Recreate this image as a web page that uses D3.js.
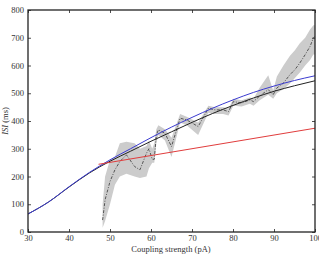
<!DOCTYPE html>
<html><head><meta charset="utf-8">
<script src="https://cdn.jsdelivr.net/npm/d3@7"></script>
<style>html,body{margin:0;padding:0;background:#fff;overflow:hidden}</style>
</head><body>
<svg id="c" width="319" height="254"></svg>
<script>
// ---- data ----
const xTicks = [30, 40, 50, 60, 70, 80, 90, 100];
const yTicks = [0, 100, 200, 300, 400, 500, 600, 700, 800];
const modelX   = [30, 35, 40, 45, 50, 55, 60, 65, 70, 75, 80, 85, 90, 95, 100];
const blueISI  = [65, 108, 163, 215, 260, 300, 340, 378, 413, 446, 476, 503, 526, 546, 563];
const blackISI = [65, 108, 162, 213, 255, 291, 327, 361, 395, 427, 456, 483, 507, 527, 545];
const redX   = [47.2, 100];
const redISI = [244, 374];
const simX = [48.2, 48.8, 50.0, 51.2, 52.4, 54.0, 56.0, 57.3, 58.9, 59.5, 60.3, 60.8, 61.3, 61.8, 63.4, 65.0, 67.1, 68.7, 71.5, 74.0, 75.6, 77.6, 78.9, 80.1, 82.1, 84.1, 85.0, 86.5, 88.6, 89.8, 90.7, 92.3, 93.9, 95.1, 96.3, 97.6, 98.8, 99.6, 100];
const simMean = [43, 116, 182, 224, 254, 278, 236, 224, 284, 300, 262, 262, 350, 368, 356, 308, 410, 404, 380, 446, 440, 440, 434, 470, 465, 476, 470, 490, 513, 495, 519, 537, 567, 585, 609, 639, 669, 699, 705];
const simLow  = [15, 40, 100, 170, 200, 210, 200, 195, 200, 230, 250, 250, 320, 350, 330, 270, 395, 385, 350, 430, 425, 425, 420, 455, 452, 462, 455, 475, 495, 480, 500, 515, 535, 555, 575, 600, 620, 640, 640];
const simHigh = [100, 200, 260, 270, 320, 325, 320, 300, 310, 330, 300, 320, 370, 385, 370, 340, 425, 415, 395, 455, 450, 450, 445, 480, 475, 485, 480, 520, 565, 510, 560, 600, 635, 655, 680, 700, 730, 745, 745];

// ---- layout ----
const L = 28, R = 315, T = 10, B = 232;
const svg = d3.select('#c');
const x = d3.scaleLinear().domain([30, 100]).range([L, R]);
const y = d3.scaleLinear().domain([0, 800]).range([B, T]);
const font = 'Liberation Serif, DejaVu Serif, serif';
const fs = 8.5;

svg.append('defs').append('clipPath').attr('id', 'clip')
  .append('rect').attr('x', L).attr('y', T).attr('width', R - L).attr('height', B - T);
const g = svg.append('g').attr('clip-path', 'url(#clip)');

// band
const band = d3.area().x((d, i) => x(simX[i])).y0((d, i) => y(simLow[i])).y1((d, i) => y(simHigh[i]));
g.append('path').attr('d', band(simX)).attr('fill', '#cccccc').attr('stroke', 'none');

const line = (xs, ys) => d3.line().curve(d3.curveMonotoneX).x((d, i) => x(xs[i])).y((d, i) => y(ys[i]))(xs);
const lineL = (xs, ys) => d3.line().x((d, i) => x(xs[i])).y((d, i) => y(ys[i]))(xs);

g.append('path').attr('d', lineL(simX, simMean)).attr('fill', 'none').attr('stroke', '#555')
  .attr('stroke-width', 1).attr('stroke-dasharray', '3,1.5,1,1.5');
g.append('path').attr('d', line(modelX, blackISI)).attr('fill', 'none').attr('stroke', '#222').attr('stroke-width', 1);
g.append('path').attr('d', line(modelX, blueISI)).attr('fill', 'none').attr('stroke', '#3b3bd0').attr('stroke-width', 1);
g.append('path').attr('d', lineL(redX, redISI)).attr('fill', 'none').attr('stroke', '#e03c3c').attr('stroke-width', 1);

// axes (inward ticks on all sides)
const tickLen = 3;
const axB = d3.axisBottom(x).tickValues(xTicks).tickSizeInner(-tickLen).tickSizeOuter(0).tickPadding(3).tickFormat(d3.format('d'));
const axT = d3.axisTop(x).tickValues(xTicks).tickSizeInner(-tickLen).tickSizeOuter(0).tickFormat('');
const axL = d3.axisLeft(y).tickValues(yTicks).tickSizeInner(-tickLen).tickSizeOuter(0).tickPadding(4).tickFormat(d3.format('d'));
const axR = d3.axisRight(y).tickValues(yTicks).tickSizeInner(-tickLen).tickSizeOuter(0).tickFormat('');
function style(sel) {
  sel.select('.domain').remove();
  sel.selectAll('line').attr('stroke', '#222').attr('stroke-width', 0.8);
  sel.selectAll('text').attr('font-family', font).attr('font-size', fs).attr('fill', '#333');
}
svg.append('g').attr('transform', `translate(0,${B})`).call(axB).call(style);
svg.append('g').attr('transform', `translate(0,${T})`).call(axT).call(style);
svg.append('g').attr('transform', `translate(${L},0)`).call(axL).call(style);
svg.append('g').attr('transform', `translate(${R},0)`).call(axR).call(style);

svg.append('rect').attr('x', L).attr('y', T).attr('width', R - L).attr('height', B - T)
  .attr('fill', 'none').attr('stroke', '#222').attr('stroke-width', 1.3);

svg.append('text').attr('x', 171).attr('y', 252).attr('text-anchor', 'middle')
  .attr('font-family', font).attr('font-size', fs).attr('fill', '#333').text('Coupling strength (pA)');
svg.append('text').attr('transform', `translate(8,${(T + B) / 2}) rotate(-90)`).attr('text-anchor', 'middle')
  .attr('font-family', font).attr('font-size', fs).attr('fill', '#333')
  .call(t => { t.append('tspan').attr('font-style', 'italic').text('ISI'); t.append('tspan').text(' (ms)'); });
</script>
</body></html>
